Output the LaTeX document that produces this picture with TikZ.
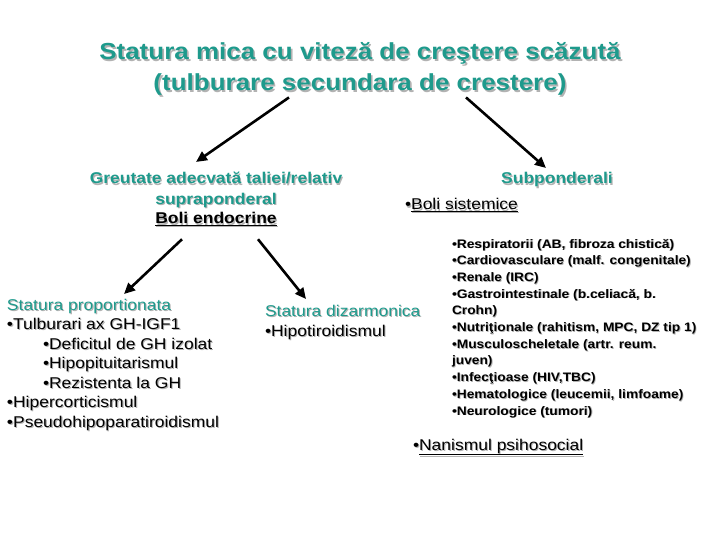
\documentclass[tikz,border=0pt]{standalone}
\usepackage{fontspec}
\setmainfont{Liberation Sans}[FakeStretch=1.12]
\usepackage{xcolor}
\usetikzlibrary{arrows.meta}

\definecolor{tealtxt}{HTML}{1E9A8C}
% text with a soft grey drop shadow
\newcommand{\shd}[1]{\rlap{\kern.07em\raisebox{-.07em}{\textcolor{black!30}{#1}}}#1}

\begin{document}
\begin{tikzpicture}[x=1pt, y=-1pt,
    every node/.style={inner sep=0pt, outer sep=0pt},
    ttl/.style={font=\fontsize{23.2}{31}\selectfont\bfseries, text=tealtxt, align=center},
    head/.style={font=\fontsize{15.6}{20}\selectfont\bfseries, text=tealtxt, align=center},
    sub/.style={font=\fontsize{15.6}{19.5}\selectfont, align=left},
    small/.style={font=\fontsize{12.3}{16.7}\selectfont\bfseries, align=left},
    arr/.style={line width=2.6pt, -{Triangle[length=11pt, width=10pt]}}]
    \useasboundingbox (0,0) rectangle (720,540);

    % base of a multi-line node = baseline of its last line
    \node[ttl, anchor=base] at (360, 91) (ttl) {\shd{Statura mica cu viteză de creştere scăzută}\\\shd{(tulburare secundara de crestere)}};

    \node[head, anchor=base] at (216, 224) (grt) {\shd{Greutate adecvată taliei/relativ}\\\shd{supraponderal}\\\textcolor{black}{\shd{\underline{Boli endocrine}}}};
    \node[head, anchor=base] at (557, 184) (subp) {\shd{Subponderali}};
    \node[sub, anchor=base west] at (405, 210) (sist) {\shd{•\underline{Boli sistemice}}};

    \node[sub, anchor=base west] at (7, 427) (prop) {\textcolor{tealtxt}{\shd{Statura proportionata}}\\
        \shd{•Tulburari ax GH-IGF1}\\
        \hspace*{36pt}\shd{•Deficitul de GH izolat}\\
        \hspace*{36pt}\shd{•Hipopituitarismul}\\
        \hspace*{36pt}\shd{•Rezistenta la GH}\\
        \shd{•Hipercorticismul}\\
        \shd{•Pseudohipoparatiroidismul}};
    \node[sub, anchor=base west] at (265, 336) (diz) {\textcolor{tealtxt}{\shd{Statura dizarmonica}}\\
        \shd{•Hipotiroidismul}};

    \node[small, anchor=base west] at (452, 415) (lst) {\shd{•Respiratorii (AB, fibroza chistică)}\\
        \shd{•Cardiovasculare (malf. congenitale)}\\
        \shd{•Renale (IRC)}\\
        \shd{•Gastrointestinale (b.celiacă, b.}\\
        \shd{Crohn)}\\
        \shd{•Nutriţionale (rahitism, MPC, DZ tip 1)}\\
        \shd{•Musculoscheletale (artr. reum.}\\
        \shd{juven)}\\
        \shd{•Infecţioase (HIV,TBC)}\\
        \shd{•Hematologice (leucemii, limfoame)}\\
        \shd{•Neurologice (tumori)}};
    \node[sub, anchor=base west] at (413, 450) (nan) {\shd{•\underline{Nanismul psihosocial}}};

    \coordinate (a2) at (196, 162);
    \coordinate (b2) at (546, 168);
    \coordinate (c2) at (124, 294);
    \coordinate (d2) at (306, 299);
    \draw[arr] ([xshift=-71pt]ttl.south) -- (a2);
    \draw[arr] ([xshift=106pt]ttl.south) -- (b2);
    \draw[arr] ([xshift=-34pt, yshift=-12pt]grt.south) -- (c2);
    \draw[arr] ([xshift=42pt, yshift=-12pt]grt.south) -- (d2);
\end{tikzpicture}
\end{document}
